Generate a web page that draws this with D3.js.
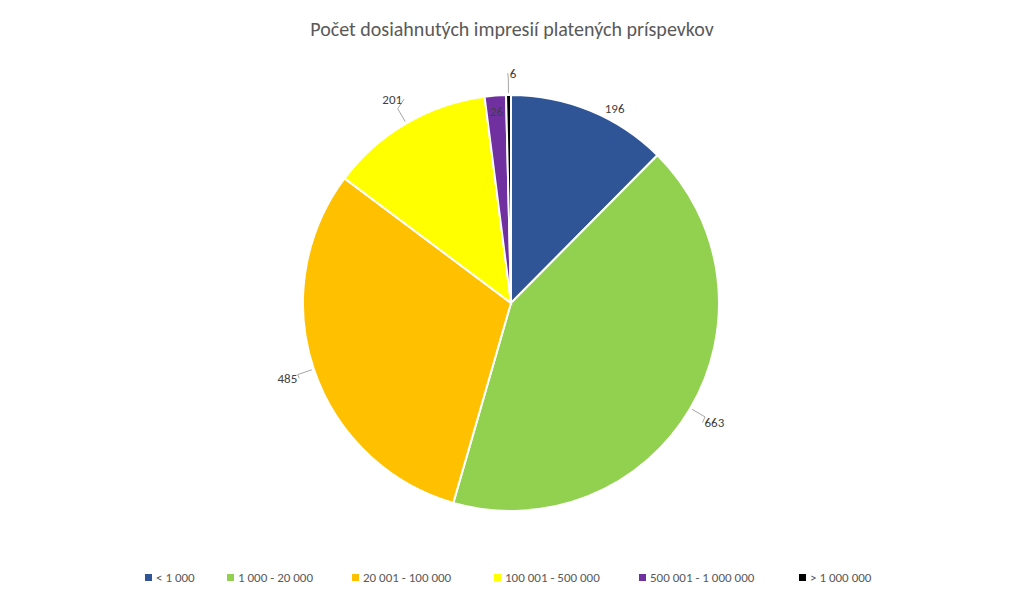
<!DOCTYPE html>
<html>
<head>
<meta charset="utf-8">
<script src="https://cdn.jsdelivr.net/npm/d3@7"></script>
<style>
body { margin: 0; background: #fff; font-family: Calibri, Carlito, "Liberation Sans", sans-serif; }
</style>
</head>
<body>
<svg id="chart" width="1024" height="603"></svg>
<script>
var categories = ["< 1 000", "1 000 - 20 000", "20 001 - 100 000", "100 001 - 500 000", "500 001 - 1 000 000", "> 1 000 000"];
var values = [196, 663, 485, 201, 26, 6];
var colors = ["#2f5597", "#92d050", "#ffc000", "#ffff00", "#7030a0", "#000000"];

var svg = d3.select("#chart"),
	cx = 511, cy = 303, r = 208;

svg.append("text")
	.attr("x", 512).attr("y", 36)
	.attr("text-anchor", "middle")
	.attr("font-size", "20px")
	.attr("fill", "#595959")
	.text("Počet dosiahnutých impresií platených príspevkov");

var pie = d3.pie().sort(null).value(function (d) { return d; });
var arcs = pie(values);
var arc = d3.arc().innerRadius(0).outerRadius(r);

var g = svg.append("g").attr("transform", "translate(" + cx + "," + cy + ")");
g.selectAll("path")
	.data(arcs)
	.enter()
	.append("path")
	.attr("d", arc)
	.attr("fill", function (d, i) { return colors[i]; })
	.attr("stroke", "#fff")
	.attr("stroke-width", 2);

// label placement: outside with leader line for most, inside for 196 and 26
function pt(a, rad) { return [Math.sin(a) * rad, -Math.cos(a) * rad]; }
arcs.forEach(function (d, i) {
	var a = (d.startAngle + d.endAngle) / 2;
	var p, line = true;
	if (i == 0) { a = a + 0.1; p = pt(a, 220); line = false; }
	else if (i == 4) { p = pt(a, 192); line = false; }
	else if (i == 5) { p = pt(a + 0.05, 230); }
	else { p = pt(a, 236); }
	if (line) {
		var s = pt((d.startAngle + d.endAngle) / 2, r + 2);
		var m = pt((d.startAngle + d.endAngle) / 2, 225);
		var endX = p[0] + (p[0] > 0 ? -12 : 12);
		g.append("polyline")
			.attr("points", [s, m, [endX, p[1]]].map(function (q) { return q.join(","); }).join(" "))
			.attr("fill", "none")
			.attr("stroke", "#a6a6a6")
			.attr("stroke-width", 1);
	}
	g.append("text")
		.attr("x", p[0]).attr("y", p[1])
		.attr("dy", "0.35em")
		.attr("text-anchor", line ? (p[0] > 0 ? "start" : "end") : "middle")
		.attr("dx", line ? (p[0] > 0 ? -10 : 10) : 0)
		.attr("font-size", "13px")
		.attr("fill", "#404040")
		.text(values[i]);
});

// legend
var legendX = [145, 227, 352, 494, 639, 799];
var lg = svg.append("g");
categories.forEach(function (c, i) {
	lg.append("rect")
		.attr("x", legendX[i]).attr("y", 574)
		.attr("width", 7).attr("height", 7)
		.attr("fill", colors[i]);
	lg.append("text")
		.attr("x", legendX[i] + 11).attr("y", 582)
		.attr("font-size", "13px")
		.attr("fill", "#595959")
		.text(c);
});
</script>
</body>
</html>
